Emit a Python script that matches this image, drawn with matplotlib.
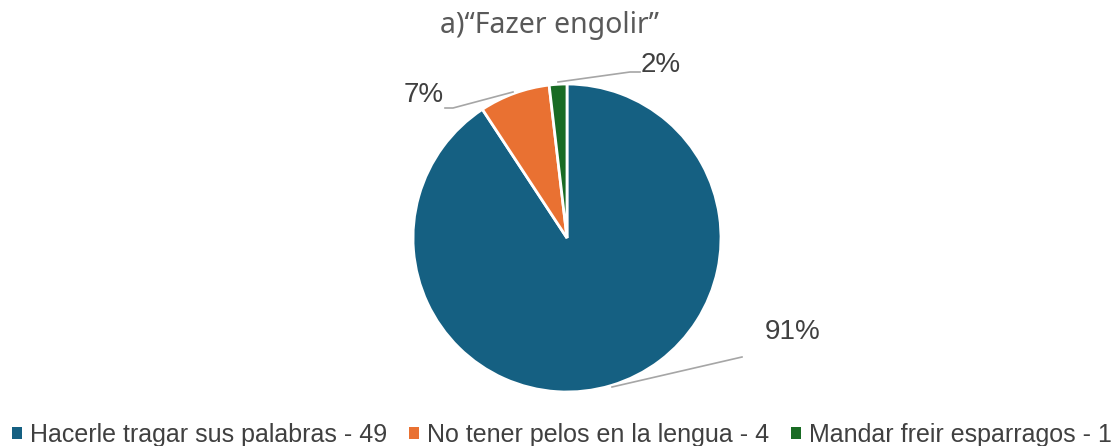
import matplotlib
matplotlib.use("Agg")
import matplotlib.pyplot as plt
from matplotlib.patches import Patch

title = "a)\u201cFazer engolir\u201d"
categories = ["Hacerle tragar sus palabras", "No tener pelos en la lengua", "Mandar freir esparragos"]
values = [49, 4, 1]
colors = ["#156082", "#E97132", "#196B24"]

W, H = 1116, 446
fig = plt.figure(figsize=(W / 100, H / 100), dpi=100)
ax = fig.add_axes([0, 0, 1, 1])

cx, cy, r = 567, H - 238, 154
wedges, _ = ax.pie(values, colors=colors, startangle=90, counterclock=False,
                   center=(cx, cy), radius=r, frame=True,
                   wedgeprops=dict(edgecolor="white", linewidth=2))
ax.set_xlim(0, W)
ax.set_ylim(0, H)
ax.set_aspect("equal")
ax.axis("off")

total = sum(values)
pcts = [f"{round(v / total * 100)}%" for v in values]

lc = "#A6A6A6"
tc = "#404040"
fs = 20
# 91%
ax.plot([612, 742], [H - 387, H - 357], color=lc, lw=1.2)
ax.text(793, H - 332, pcts[0], fontsize=fs, color=tc, ha="center", va="center", family="Liberation Sans")
# 7%
ax.plot([445, 453, 513], [H - 108, H - 108, H - 92], color=lc, lw=1.2)
ax.text(424, H - 95, pcts[1], fontsize=fs, color=tc, ha="center", va="center", family="Liberation Sans")
# 2%
ax.plot([558, 630, 640], [H - 82, H - 72, H - 72], color=lc, lw=1.2)
ax.text(661, H - 65, pcts[2], fontsize=fs, color=tc, ha="center", va="center", family="Liberation Sans")

fig.text(549 / W, 1 - 26 / H, title, fontsize=20.5, color="#595959", ha="center", va="center", family="Noto Sans")

handles = [Patch(facecolor=c, edgecolor="none") for c in colors]
labels = [f"{c} - {v}" for c, v in zip(categories, values)]
fig.legend(handles, labels, loc="center left", bbox_to_anchor=(12 / W, 1 - 435 / H), ncol=3,
           frameon=False, borderaxespad=0, borderpad=0, handlelength=0.4, handleheight=0.4,
           handletextpad=0.32, columnspacing=0.88,
           prop=dict(family="Liberation Sans", size=18), labelcolor="#404040")

fig.savefig("out.png", dpi=100)
